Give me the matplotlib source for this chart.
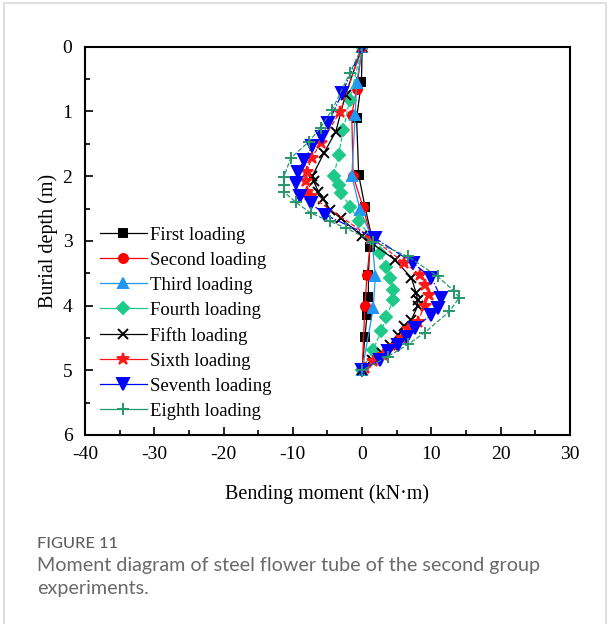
import numpy as np
import matplotlib
matplotlib.use("Agg")
import matplotlib.pyplot as plt
from matplotlib.patches import Rectangle
from matplotlib.ticker import MultipleLocator

# 数据
labels = ["First loading", "Second loading", "Third loading", "Fourth loading",
          "Fifth loading", "Sixth loading", "Seventh loading", "Eighth loading"]

d1 = [0, 0.54, 1.10, 1.98, 2.47, 2.95, 3.10, 3.52, 3.87, 4.15, 4.48, 5.0]
m1 = [0, -0.1, -0.8, -0.5, 0.4, 1.4, 1.1, 0.9, 0.9, 0.7, 0.4, 0]

d2 = [0, 0.66, 1.05, 2.00, 2.47, 2.95, 3.52, 4.01, 5.0]
m2 = [0, -0.8, -1.5, -1.3, 0.1, 1.3, 0.7, 0.4, 0]

d3 = [0, 0.56, 1.05, 2.00, 2.52, 2.95, 3.55, 4.04, 5.0]
m3 = [0, -0.8, -1.0, -1.5, -0.3, 1.4, 1.9, 1.6, 0]

d4 = [0, 0.82, 1.28, 1.67, 2.00, 2.13, 2.26, 2.47, 2.70, 2.95, 3.19, 3.40,
      3.57, 3.76, 3.91, 4.17, 4.40, 4.68, 5.0]
m4 = [0, -1.8, -2.7, -3.4, -4.1, -3.4, -3.1, -1.7, -0.5, 1.3, 2.6, 3.5,
      4.0, 4.5, 4.5, 3.5, 2.7, 1.6, 0]

d5 = [0, 0.74, 1.31, 1.64, 2.00, 2.08, 2.24, 2.36, 2.52, 2.65, 2.93, 3.29,
      3.57, 3.81, 3.91, 4.01, 4.22, 4.32, 4.45, 4.61, 4.73, 4.84, 5.0]
m5 = [0, -2.4, -3.8, -5.5, -7.2, -7.0, -6.3, -5.6, -4.6, -3.1, 0.0, 4.7,
      7.1, 7.8, 8.0, 8.0, 7.1, 6.1, 5.2, 4.0, 2.8, 1.4, 0]

d6 = [0, 1.01, 1.49, 1.72, 1.94, 2.08, 2.24, 2.31, 2.95, 3.34, 3.52, 3.68,
      3.83, 4.01, 4.25, 4.37, 4.50, 4.63, 4.76, 4.86, 4.97]
m6 = [0, -3.2, -6.0, -7.3, -8.0, -8.1, -7.9, -7.4, 1.3, 6.1, 8.3, 9.0,
      9.7, 9.0, 8.0, 6.6, 5.7, 4.7, 3.0, 1.6, 0.4]

d7 = [0, 0.72, 1.18, 1.39, 1.54, 1.75, 1.93, 2.10, 2.31, 2.42, 2.60, 2.96,
      3.34, 3.57, 3.88, 4.04, 4.14, 4.34, 4.48, 4.61, 4.71, 4.84, 5.0]
m7 = [0, -2.9, -4.9, -5.8, -7.2, -8.4, -9.3, -9.6, -8.9, -7.4, -5.3, 1.9,
      7.3, 10.0, 11.4, 10.9, 10.0, 7.6, 6.4, 5.2, 3.7, 2.6, 0]

d8 = [0, 0.41, 0.97, 1.25, 1.47, 1.72, 2.01, 2.13, 2.24, 2.40, 2.57, 2.70,
      2.80, 3.01, 3.24, 3.55, 3.78, 3.88, 4.09, 4.42, 4.60, 4.79, 5.0]
m8 = [0, -1.8, -4.3, -6.0, -7.7, -10.3, -11.3, -11.3, -11.3, -9.6, -7.4, -4.6,
      -2.4, 1.6, 6.6, 10.9, 13.3, 14.0, 12.6, 9.0, 6.6, 3.7, 0]

depths = [d1, d2, d3, d4, d5, d6, d7, d8]
moments = [m1, m2, m3, m4, m5, m6, m7, m8]

styles = [
    dict(color="black", marker="s", ls="-", ms=6),
    dict(color="#ff0000", marker="o", ls="-", ms=6.5),
    dict(color="#2196f3", marker="^", ls="-", ms=7.5),
    dict(color="#1fc98a", marker="D", ls="--", ms=6),
    dict(color="black", marker="x", ls="-", ms=7),
    dict(color="#ff1a1a", marker="*", ls="--", ms=9),
    dict(color="#0000ff", marker="v", ls="-.", ms=8),
    dict(color="#27966a", marker="+", ls="--", ms=9),
]

plt.rcParams["font.family"] = ["Liberation Serif", "DejaVu Serif"]
plt.rcParams["axes.unicode_minus"] = False

fig = plt.figure(figsize=(6.11, 6.24), dpi=100)
fig.patches.append(Rectangle((0.007, -0.05), 0.985, 1.045, transform=fig.transFigure,
                             fill=False, ec="#d9d9d9", lw=1.2))
ax = fig.add_axes([0.139, 0.303, 0.794, 0.622])

for i in range(8):
    st = styles[i]
    ax.plot(moments[i], depths[i], color=st["color"], linestyle=st["ls"], lw=0.9,
            marker=st["marker"], markersize=st["ms"], markeredgewidth=1.4,
            label=labels[i])

ax.set_xlim(-40, 30)
ax.set_ylim(6, 0)
ax.xaxis.set_major_locator(MultipleLocator(10))
ax.xaxis.set_minor_locator(MultipleLocator(5))
ax.yaxis.set_major_locator(MultipleLocator(1))
ax.yaxis.set_minor_locator(MultipleLocator(0.5))
ax.tick_params(which="both", direction="in", top=False, right=False,
               labelsize=14, width=1.2)
ax.tick_params(axis="x", which="major", length=6, pad=8)
ax.tick_params(axis="y", which="major", length=6, pad=9)
ax.tick_params(which="minor", length=3.5)
for s in ax.spines.values():
    s.set_linewidth(1.5)

ax.set_xlabel("Bending moment (kN·m)", fontsize=14.5, labelpad=15)
ax.set_ylabel("Burial depth (m)", fontsize=14.5, labelpad=3)

leg = ax.legend(loc="upper left", bbox_to_anchor=(0.008, 0.565), frameon=False,
                fontsize=13.5, handlelength=2.5, handletextpad=0.15,
                labelspacing=0.42, borderaxespad=0.2)
for h in leg.legend_handles:
    h.set_linestyle("-")

fig.text(0.06, 0.128, "FIGURE 11", fontsize=11.8, color="#5f5f5f",
         family=["Lato", "DejaVu Sans"], weight="medium", va="center")
fig.text(0.06, 0.094, "Moment diagram of steel flower tube of the second group",
         fontsize=14.2, color="#6a6a6a", family=["Lato", "DejaVu Sans"], va="center")
fig.text(0.06, 0.057, "experiments.", fontsize=14.2, color="#6a6a6a",
         family=["Lato", "DejaVu Sans"], va="center")

fig.savefig("out.png", dpi=100)
